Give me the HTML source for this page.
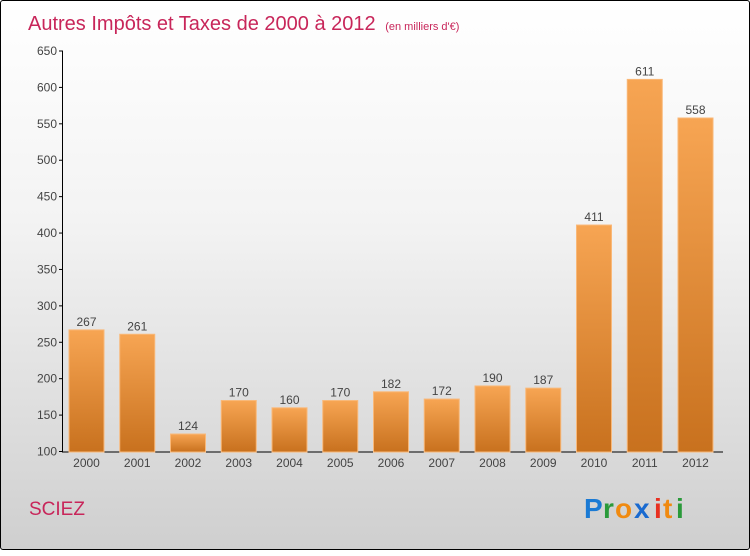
<!DOCTYPE html>
<html><head><meta charset="utf-8"><style>
html,body{margin:0;padding:0}
body{width:750px;height:550px;overflow:hidden;font-family:"Liberation Sans",sans-serif}
#frame{position:absolute;left:0;top:0;width:748px;height:548px;border:1px solid #000;border-radius:3px;background:linear-gradient(#ffffff,#f3f3f3 40%,#cfcfcf)}
</style></head><body>
<div id="frame">
<svg width="750" height="550">
<defs><linearGradient id="bg" x1="0" y1="0" x2="0" y2="1"><stop offset="0" stop-color="#f7a553"/><stop offset="1" stop-color="#c8711e"/></linearGradient></defs>
<text x="27" y="29" font-size="20" fill="#c8265a">Autres Impôts et Taxes de 2000 à 2012 <tspan font-size="11" dx="4">(en milliers d'€)</tspan></text>
<g id="axes"></g><g id="bars"></g>
<text x="28" y="514" font-size="19" fill="#c8265a">SCIEZ</text>
<g font-size="28" font-weight="bold">
<text x="583" y="517" fill="#1a7ad4">P</text><text x="602" y="517" fill="#2a9a3a">r</text><text x="614" y="517" fill="#f08a10">o</text><text x="633" y="517" fill="#1a6ad0">x</text><text x="653" y="517" fill="#e83020">i</text><text x="662" y="517" fill="#f08a10">t</text><text x="675" y="517" fill="#2a9a3a">i</text>
</g>
</svg></div>
<script>
const years=["2000","2001","2002","2003","2004","2005","2006","2007","2008","2009","2010","2011","2012"];
const values=[267,261,124,170,160,170,182,172,190,187,411,611,558];
const yTicks=[100,150,200,250,300,350,400,450,500,550,600,650];
const NS="http://www.w3.org/2000/svg";
const y=v=>450.5-(v-100)*(400.5/550);
const x=i=>85.5+i*50.75;
const ax=document.getElementById('axes'),bg=document.getElementById('bars');
function mk(t,a,p){const e=document.createElementNS(NS,t);for(const k in a)e.setAttribute(k,a[k]);p.appendChild(e);return e;}
let l=mk('line',{x1:61.5,y1:50,x2:61.5,y2:451,stroke:'#000'},ax);


l=mk('line',{x1:61,y1:451,x2:722,y2:451,stroke:'#000'},ax);


yTicks.forEach(v=>{
 mk('line',{x1:58,y1:y(v),x2:62,y2:y(v),stroke:'#000'},ax);
 const t=mk('text',{x:56,y:y(v)+4,'font-size':12,'text-anchor':'end',fill:'#444'},ax);t.textContent=v;
 
 
});
years.forEach((yr,i)=>{
 const r=mk('rect',{x:x(i)-17.5,y:y(values[i]),width:35,height:451-y(values[i]),fill:'url(#bg)',stroke:'#f9b878','stroke-width':1},bg);
 
 
 const t=mk('text',{x:x(i),y:y(values[i])-4,'font-size':12,'text-anchor':'middle',fill:'#444'},bg);t.textContent=values[i];
 
 
 const k=mk('text',{x:x(i),y:466,'font-size':12,'text-anchor':'middle',fill:'#444'},bg);k.textContent=yr;
 
 
});
</script>
</body></html>
